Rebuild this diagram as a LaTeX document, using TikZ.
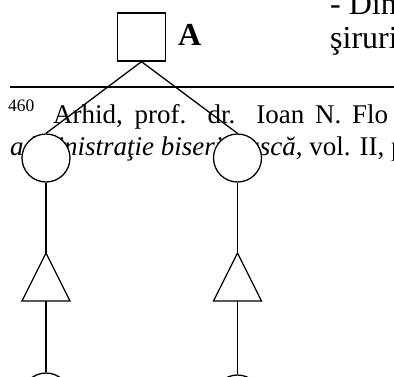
\documentclass[tikz,border=0pt]{standalone}
\usepackage{fontspec}
\setmainfont{Liberation Serif}
\begin{document}
\begin{tikzpicture}[x=1pt,y=-1pt,
  shapeline/.style={draw=black, line width=1.3pt},
  sqbox/.style={shapeline, fill=white, rectangle, minimum size=48pt, inner sep=0pt},
  circ/.style={shapeline, fill=white, circle, minimum size=48pt, inner sep=0pt},
  conn/.style={draw=black, line width=1.3pt},
  rule/.style={draw=black, line width=1.6pt},
  toptext/.style={inner sep=0pt, anchor=base west, font=\fontsize{32}{36}\selectfont},
  foottext/.style={inner sep=0pt, anchor=base west, font=\fontsize{27}{32}\selectfont},
  suptext/.style={inner sep=0pt, anchor=base west, font=\fontsize{17.5}{20}\selectfont}]
\useasboundingbox (0,0) rectangle (394,376);
\clip (0,0) rectangle (394,376);
% texts
\node[toptext] (top1) at (330,14) {- Din};
\node[toptext] (top2) at (330,48) {şiruri};
\node[toptext, font=\fontsize{32}{36}\selectfont\bfseries] (lblA) at (178,45) {A};
\coordinate (r1) at (10,87);
\coordinate (r2) at (394,87);
\draw[rule] (r1) -- (r2);
\node[suptext] (fnum) at (8,111) {460};
\node[foottext] (fl1) at (53,123) {\makebox[335pt][s]{Arhid, prof. dr. Ioan N. Flo}};
\node[foottext] (fl2) at (10,155) {\textit{administraţie bisericească,} vol. II, p};
% diagram
\node[sqbox] (sq) at (141.5,37) {};
\node[circ] (c1) at (46,158) {};
\node[circ] (c2) at (237.5,158) {};
\node[circ] (c3) at (46,397) {};
\node[circ] (c4) at (237.5,399) {};
\coordinate (t1a) at (46,253);
\coordinate (t1l) at (22,301);
\coordinate (t1r) at (70,301);
\coordinate (t1b) at (46,301);
\coordinate (t2a) at (237.5,253);
\coordinate (t2l) at (213.5,301);
\coordinate (t2r) at (261.5,301);
\coordinate (t2b) at (237.5,301);
\draw[shapeline] (t1a) -- (t1r) -- (t1l) -- cycle;
\draw[shapeline] (t2a) -- (t2r) -- (t2l) -- cycle;
\draw[conn] (sq.south) -- (c1.north);
\draw[conn] (sq.south) -- (c2.north);
\draw[conn] (c1.south) -- (t1a);
\draw[conn] (c2.south) -- (t2a);
\draw[conn] (t1b) -- (c3.north);
\draw[conn] (t2b) -- (c4.north);
\end{tikzpicture}
\end{document}
